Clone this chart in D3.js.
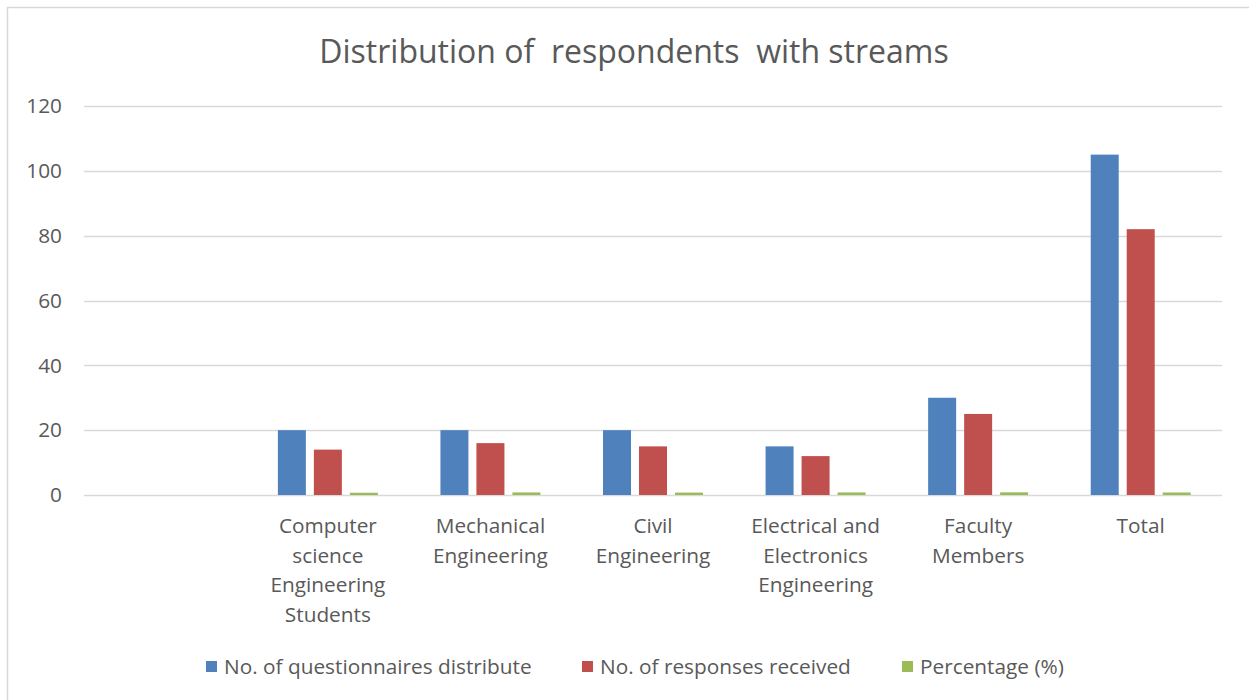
<!DOCTYPE html>
<html>
<head>
<meta charset="utf-8">
<script src="https://cdn.jsdelivr.net/npm/d3@7"></script>
<style>
  html, body { margin: 0; padding: 0; background: #fff; }
  svg { display: block; }
  text { font-family: "Open Sans", Lato, sans-serif; fill: #595959; }
</style>
</head>
<body>
<svg id="chart" width="1249" height="700"></svg>
<script>
// ---- data ----
const categories = [
  "",
  "Computer science Engineering Students",
  "Mechanical Engineering",
  "Civil Engineering",
  "Electrical and Electronics Engineering",
  "Faculty Members",
  "Total"
];
// how each category label wraps under the axis
const categoryLines = [
  [],
  ["Computer", "science", "Engineering", "Students"],
  ["Mechanical", "Engineering"],
  ["Civil", "Engineering"],
  ["Electrical and", "Electronics", "Engineering"],
  ["Faculty", "Members"],
  ["Total"]
];
const seriesNames = ["No. of questionnaires distribute", "No. of responses received", "Percentage (%)"];
const distributed = [null, 20, 20, 20, 15, 30, 105];
const received    = [null, 14, 16, 15, 12, 25, 82];
const percentage  = [null, 0.7, 0.8, 0.75, 0.8, 0.83, 0.78];
const yTicks = [0, 20, 40, 60, 80, 100, 120];
const colors = ["#4f81bd", "#c0504d", "#9bbb59"];
const title = "Distribution of  respondents  with streams";

// ---- layout ----
const svg = d3.select("#chart");
const plot = { left: 84, right: 1222, top: 106, bottom: 495 };

svg.append("rect")
  .attr("x", 7.5).attr("y", 7.5).attr("width", 1300).attr("height", 720)
  .attr("fill", "#fff").attr("stroke", "#d9d9d9").attr("stroke-width", 1.5);

const x = d3.scaleBand().domain(d3.range(categories.length))
  .range([plot.left, plot.right]).paddingInner(0).paddingOuter(0);
const y = d3.scaleLinear().domain([0, 120]).range([plot.bottom, plot.top]);

const groupW = x.bandwidth() * 0.615;
const xs = d3.scaleBand().domain(d3.range(3))
  .range([(x.bandwidth() - groupW) / 2, (x.bandwidth() + groupW) / 2])
  .paddingInner(8 / 36).paddingOuter(0);

// gridlines
svg.append("g").selectAll("line").data(yTicks).enter().append("line")
  .attr("x1", plot.left).attr("x2", plot.right)
  .attr("y1", d => Math.round(y(d)) + 0.5).attr("y2", d => Math.round(y(d)) + 0.5)
  .attr("stroke", "#d9d9d9").attr("stroke-width", 1.5);

// y tick labels
svg.append("g").selectAll("text").data(yTicks).enter().append("text")
  .attr("x", 62).attr("y", d => y(d)).attr("dy", "0.35em")
  .attr("text-anchor", "end").attr("font-size", "20.8px")
  .text(d => d);

// bars
const series = [distributed, received, percentage];
series.forEach((vals, s) => {
  svg.append("g").selectAll("rect")
    .data(vals.map((v, i) => ({ v, i })).filter(d => d.v != null))
    .enter().append("rect")
    .attr("x", d => x(d.i) + xs(s))
    .attr("width", xs.bandwidth())
    .attr("y", d => y(d.v))
    .attr("height", d => y(0) - y(d.v))
    .attr("fill", colors[s]);
});

// category labels
const catG = svg.append("g").selectAll("g").data(categoryLines).enter().append("g")
  .attr("transform", (d, i) => `translate(${x(i) + x.bandwidth() / 2},0)`);
catG.selectAll("text").data(d => d).enter().append("text")
  .attr("x", 0).attr("y", (d, j) => 533 + j * 29.5)
  .attr("text-anchor", "middle").attr("font-size", "20.8px")
  .text(d => d);

// title
svg.append("text")
  .attr("x", 634).attr("y", 63)
  .attr("text-anchor", "middle").attr("font-size", "32px")
  .style("white-space", "pre")
  .text(title);

// legend
const legendX = [206, 582, 902];
const leg = svg.append("g").selectAll("g").data(seriesNames).enter().append("g")
  .attr("transform", (d, i) => `translate(${legendX[i]},667)`);
leg.append("rect").attr("x", 0).attr("y", -6).attr("width", 11).attr("height", 11)
  .attr("fill", (d, i) => colors[i]);
leg.append("text").attr("x", 18).attr("y", 0).attr("dy", "0.35em")
  .attr("font-size", "20.8px").text(d => d);
</script>
</body>
</html>
